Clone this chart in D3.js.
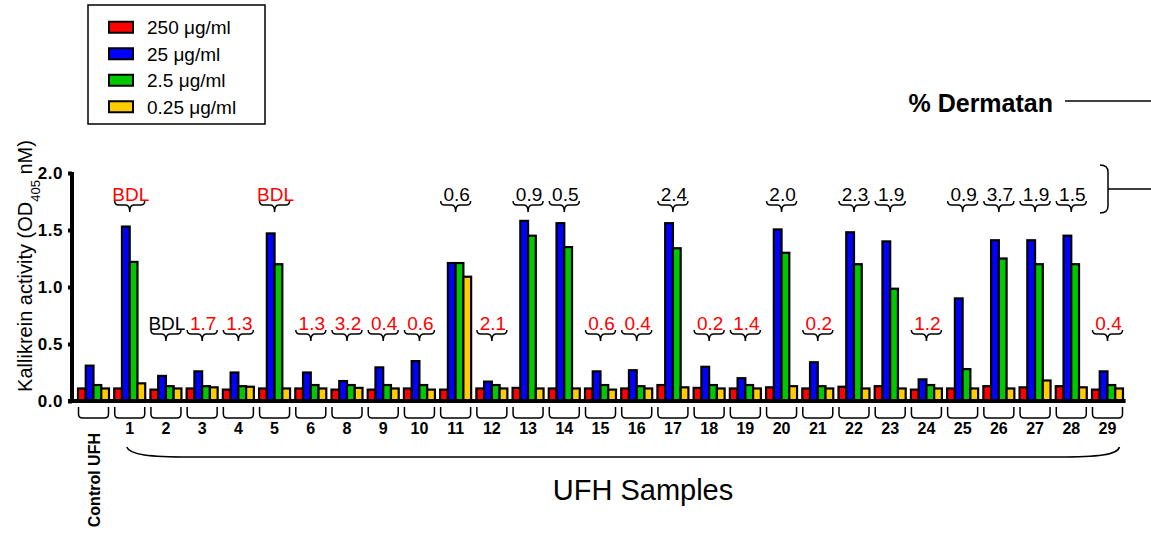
<!DOCTYPE html>
<html>
<head>
<meta charset="utf-8">
<script src="https://cdn.jsdelivr.net/npm/d3@7"></script>
<style>
  body { margin: 0; background: #fff; }
  svg { font-family: "Liberation Sans", Arial, sans-serif; display: block; }
</style>
</head>
<body>
<div id="vis"></div>
<script>
const W = 1151, H = 533;

// groups on the x axis
const groups = ['Control UFH', '1', '2', '3', '4', '5', '6', '8', '9', '10', '11', '12', '13', '14',
  '15', '16', '17', '18', '19', '20', '21', '22', '23', '24', '25', '26', '27', '28', '29'];

const concentrations = ['250 μg/ml', '25 μg/ml', '2.5 μg/ml', '0.25 μg/ml'];
const colors = ['#ff0000', '#0000ff', '#00c800', '#ffcc00'];

// kallikrein activity per concentration (one value per group)
const val250 = [0.11, 0.11, 0.10, 0.11, 0.10, 0.11, 0.11, 0.10, 0.10, 0.11, 0.10, 0.11, 0.115, 0.11,
  0.11, 0.11, 0.14, 0.115, 0.11, 0.12, 0.11, 0.125, 0.13, 0.10, 0.11, 0.13, 0.12, 0.13, 0.10];
const val25 = [0.31, 1.53, 0.22, 0.26, 0.25, 1.47, 0.25, 0.175, 0.295, 0.35, 1.21, 0.17, 1.58, 1.56,
  0.26, 0.27, 1.56, 0.30, 0.20, 1.505, 0.34, 1.48, 1.40, 0.19, 0.90, 1.41, 1.41, 1.45, 0.26];
const val2_5 = [0.14, 1.22, 0.13, 0.13, 0.13, 1.20, 0.14, 0.14, 0.14, 0.14, 1.21, 0.14, 1.45, 1.35,
  0.14, 0.13, 1.34, 0.14, 0.14, 1.30, 0.13, 1.20, 0.985, 0.14, 0.28, 1.25, 1.20, 1.20, 0.14];
const val0_25 = [0.11, 0.155, 0.11, 0.12, 0.125, 0.11, 0.11, 0.115, 0.11, 0.10, 1.09, 0.11, 0.11, 0.11,
  0.10, 0.11, 0.12, 0.11, 0.11, 0.13, 0.11, 0.11, 0.11, 0.11, 0.11, 0.11, 0.18, 0.12, 0.11];

// % dermatan labels and whether they are shown in red
const dermatan = ['', 'BDL', 'BDL', '1.7', '1.3', 'BDL', '1.3', '3.2', '0.4', '0.6', '0.6', '2.1', '0.9', '0.5',
  '0.6', '0.4', '2.4', '0.2', '1.4', '2.0', '0.2', '2.3', '1.9', '1.2', '0.9', '3.7', '1.9', '1.5', '0.4'];
const dermatanRed = [false, true, false, true, true, true, true, true, true, true, false, true, false, false,
  true, true, false, true, true, false, true, false, false, true, false, false, false, false, true];

const yTicks = [0, 0.5, 1.0, 1.5, 2.0];

const series = [val250, val25, val2_5, val0_25];
const data = groups.map((g, i) => ({
  group: g,
  values: series.map((s, k) => ({ key: k, value: s[i] })),
  label: dermatan[i],
  red: dermatanRed[i],
  maxVal: d3.max(series, s => s[i])
}));

const svg = d3.select('#vis')
  .append('svg')
  .attr('width', W)
  .attr('height', H);

const x = d3.scaleBand()
  .domain(groups)
  .range([75.4, 1125.6])
  .padding(0);

const xSub = d3.scaleBand()
  .domain(d3.range(4))
  .range([2.6, 33.6])
  .padding(0);

const y = d3.scaleLinear()
  .domain([0, 2])
  .range([401, 173]);

const cx = g => x(g) + x.bandwidth() / 2;

// bars
const groupG = svg.selectAll('.grp')
  .data(data)
  .join('g')
  .attr('class', 'grp')
  .attr('transform', d => `translate(${x(d.group)},0)`);

groupG.selectAll('rect')
  .data(d => d.values)
  .join('rect')
  .attr('x', d => xSub(d.key))
  .attr('width', xSub.bandwidth())
  .attr('y', d => y(d.value))
  .attr('height', d => y(0) - y(d.value))
  .attr('fill', d => colors[d.key])
  .attr('stroke', '#000')
  .attr('stroke-width', 2.2);

// baseline
svg.append('line')
  .attr('x1', 68).attr('x2', x.range()[1])
  .attr('y1', y(0)).attr('y2', y(0))
  .attr('stroke', '#000')
  .attr('stroke-width', 4);

// y axis
const yAxis = d3.axisLeft(y)
  .tickValues(yTicks)
  .tickFormat(d3.format('.1f'))
  .tickSize(4)
  .tickSizeOuter(0)
  .tickPadding(5);

const yG = svg.append('g')
  .attr('transform', 'translate(72,0)')
  .call(yAxis);
yG.select('.domain').attr('stroke-width', 4).attr('d', `M0,${y(2) - 1}V${y(0) + 2}`);
yG.selectAll('.tick line').attr('stroke-width', 4);
yG.selectAll('.tick text')
  .style('font-size', '17px')
  .style('font-weight', 'bold')
  .style('font-family', '"Liberation Sans", Arial, sans-serif')
  .attr('letter-spacing', 0.5);

// y title
const yTitle = svg.append('text')
  .attr('transform', 'translate(32,266) rotate(-90)')
  .attr('text-anchor', 'middle')
  .attr('font-size', 20);
yTitle.append('tspan').text('Kallikrein activity (OD');
yTitle.append('tspan').attr('font-size', 13).attr('baseline-shift', 'sub').text('405');
yTitle.append('tspan').text(' nM)');

// x axis labels
const xAxis = d3.axisBottom(x)
  .tickSize(0)
  .tickPadding(2)
  .tickFormat(d => d === 'Control UFH' ? '' : d);

const xG = svg.append('g')
  .attr('transform', 'translate(0,421)')
  .call(xAxis);
xG.select('.domain').remove();
xG.selectAll('.tick text')
  .style('font-size', '16px')
  .style('font-weight', 'bold')
  .style('font-family', '"Liberation Sans", Arial, sans-serif');

svg.append('text')
  .attr('transform', `translate(${cx('Control UFH') + 6},433) rotate(-90)`)
  .attr('text-anchor', 'end')
  .attr('font-size', 16)
  .attr('font-weight', 'bold')
  .text('Control UFH');

// small brackets under each group
svg.selectAll('.ubr')
  .data(groups)
  .join('path')
  .attr('class', 'ubr')
  .attr('fill', 'none')
  .attr('stroke', '#000')
  .attr('stroke-width', 1.5)
  .attr('d', g => {
    const c = cx(g);
    return `M${c - 15},407 L${c - 15},414 Q${c - 15},418 ${c - 11},418 L${c + 11},418 Q${c + 15},418 ${c + 15},414 L${c + 15},407`;
  });

// long brace under UFH samples
const c1 = cx('1'), c29 = cx('29');
svg.append('path')
  .attr('fill', 'none')
  .attr('stroke', '#000')
  .attr('stroke-width', 1.5)
  .attr('d', `M${c1 - 3},447 C${c1},455 ${c1 + 20},457 ${c1 + 60},457 L${c29 - 50},457 C${c29 - 10},457 ${c29 + 10},455 ${c29 + 12},447`);

svg.append('text')
  .attr('x', 643)
  .attr('y', 500)
  .attr('text-anchor', 'middle')
  .attr('font-size', 29)
  .text('UFH Samples');

// % dermatan braces and labels
function brace(c, top) {
  return `M${c - 15},${top} Q${c - 15},${top + 4} ${c - 11},${top + 4} L${c - 4},${top + 4} Q${c},${top + 4} ${c},${top + 11}` +
    ` Q${c},${top + 4} ${c + 4},${top + 4} L${c + 11},${top + 4} Q${c + 15},${top + 4} ${c + 15},${top}`;
}

const annot = data.filter(d => d.label !== '');
const rowTop = d => d.maxVal > 0.8 ? 201 : 330;

svg.selectAll('.brace')
  .data(annot)
  .join('path')
  .attr('class', 'brace')
  .attr('fill', 'none')
  .attr('stroke', '#000')
  .attr('stroke-width', 1.5)
  .attr('d', d => brace(cx(d.group), rowTop(d)));

svg.selectAll('.dlabel')
  .data(annot)
  .join('text')
  .attr('class', 'dlabel')
  .attr('x', d => cx(d.group) + 1)
  .attr('y', d => rowTop(d))
  .attr('text-anchor', 'middle')
  .attr('font-size', 19)
  .attr('fill', d => d.red ? '#ff0000' : '#000')
  .text(d => d.label);

// right side bracket and % Dermatan title
svg.append('path')
  .attr('fill', 'none')
  .attr('stroke', '#000')
  .attr('stroke-width', 1.5)
  .attr('d', 'M1100,165 Q1108,165 1108,172 L1108,206 Q1108,213 1100,213 M1108,189 L1151,189');

svg.append('text')
  .attr('x', 1053)
  .attr('y', 112)
  .attr('text-anchor', 'end')
  .attr('font-size', 25)
  .attr('font-weight', 'bold')
  .text('% Dermatan');

svg.append('line')
  .attr('x1', 1065).attr('x2', 1151)
  .attr('y1', 101).attr('y2', 101)
  .attr('stroke', '#000')
  .attr('stroke-width', 1.5);

// legend
const legend = svg.append('g');
legend.append('rect')
  .attr('x', 88).attr('y', 5)
  .attr('width', 177).attr('height', 119)
  .attr('fill', '#fff')
  .attr('stroke', '#000')
  .attr('stroke-width', 1.5);

const legRow = d3.scaleBand().domain(d3.range(4)).range([14, 120]);

legend.selectAll('.sw')
  .data(concentrations)
  .join('rect')
  .attr('class', 'sw')
  .attr('x', 109)
  .attr('y', (d, i) => legRow(i) + legRow.bandwidth() / 2 - 5.5)
  .attr('width', 24)
  .attr('height', 11)
  .attr('fill', (d, i) => colors[i])
  .attr('stroke', '#000')
  .attr('stroke-width', 2);

legend.selectAll('.lt')
  .data(concentrations)
  .join('text')
  .attr('class', 'lt')
  .attr('x', 147)
  .attr('y', (d, i) => legRow(i) + legRow.bandwidth() / 2)
  .attr('dy', '0.36em')
  .attr('font-size', 19)
  .text(d => d);
</script>
</body>
</html>
